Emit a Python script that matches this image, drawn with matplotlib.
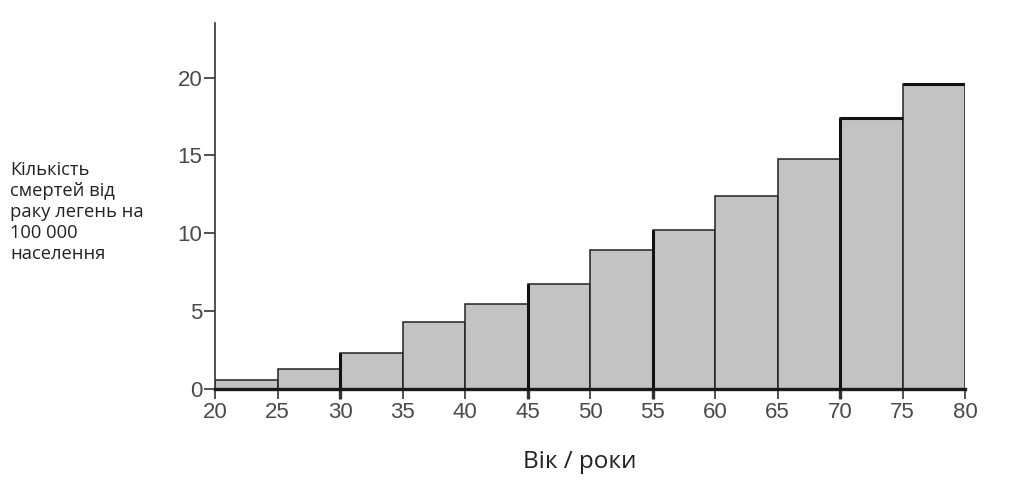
import matplotlib
matplotlib.use("Agg")
import matplotlib.pyplot as plt
from matplotlib import font_manager

# Data
bin_edges = [20, 25, 30, 35, 40, 45, 50, 55, 60, 65, 70, 75, 80]
deaths = [0.6, 1.3, 2.35, 4.3, 5.45, 6.75, 8.95, 10.2, 12.4, 14.8, 17.4, 19.6]
x_ticks = [20, 25, 30, 35, 40, 45, 50, 55, 60, 65, 70, 75, 80]
y_ticks = [0, 5, 10, 15, 20]
thick_edges = [30, 45, 55, 70]
thick_tops = [70, 75]

ylabel = "Кількість\nсмертей від\nраку легень на\n100 000\nнаселення"
xlabel = "Вік / роки"

names = {f.name for f in font_manager.fontManager.ttflist}
tick_font = [f for f in ["Liberation Sans Narrow", "Liberation Sans", "DejaVu Sans"] if f in names]
label_font = [f for f in ["Open Sans", "DejaVu Sans"] if f in names]

fig = plt.figure(figsize=(10.24, 4.82), dpi=100)
ax = fig.add_axes([215/1024, 1 - 389.3/482, 750/1024, (389.3 - 23)/482])

edge_col = "#222222"
lefts = bin_edges[:-1]
widths = [b - a for a, b in zip(bin_edges[:-1], bin_edges[1:])]
ax.bar(lefts, deaths, width=widths, align="edge", color="#c3c3c3",
       edgecolor=edge_col, linewidth=1.1, zorder=2)

# emphasised edges
for xe in thick_edges:
    i = bin_edges.index(xe)
    ax.vlines(xe, 0, deaths[i], color="#111111", linewidth=2.2, zorder=3)
for xt in thick_tops:
    i = bin_edges.index(xt)
    ax.hlines(deaths[i], bin_edges[i], bin_edges[i + 1], color="#111111", linewidth=2.2, zorder=3)

ax.set_xlim(20, 80)
ax.set_ylim(0, 23.5)
ax.set_xticks(x_ticks)
ax.set_yticks(y_ticks)

for s in ["top", "right"]:
    ax.spines[s].set_visible(False)
ax.spines["left"].set_color("#333333")
ax.spines["left"].set_linewidth(1.2)
ax.spines["bottom"].set_color("#1a1a1a")
ax.spines["bottom"].set_linewidth(2.4)
ax.spines["bottom"].set_zorder(4)

ax.tick_params(axis="both", direction="out", colors="#333333", labelcolor="#4a4a4a",
               labelsize=16, width=1.2)
ax.tick_params(axis="y", length=8, pad=1)
ax.tick_params(axis="x", length=7, pad=2)
for lab in ax.get_xticklabels() + ax.get_yticklabels():
    lab.set_family(tick_font)
for t, v in zip(ax.xaxis.get_major_ticks(), x_ticks):
    if v in thick_edges:
        t.tick1line.set_markeredgewidth(2.4)
        t.tick1line.set_color("#111111")

ax.set_axisbelow(False)

fig.text(10/1024, 1 - 161/482, ylabel, family=label_font, fontsize=13.2, color="#222222",
         ha="left", va="top", linespacing=1.22)
fig.text(580/1024, 1 - 468/482, xlabel, family=label_font, fontsize=17.5, color="#222222",
         ha="center", va="baseline")

fig.savefig("out.png", dpi=100)
